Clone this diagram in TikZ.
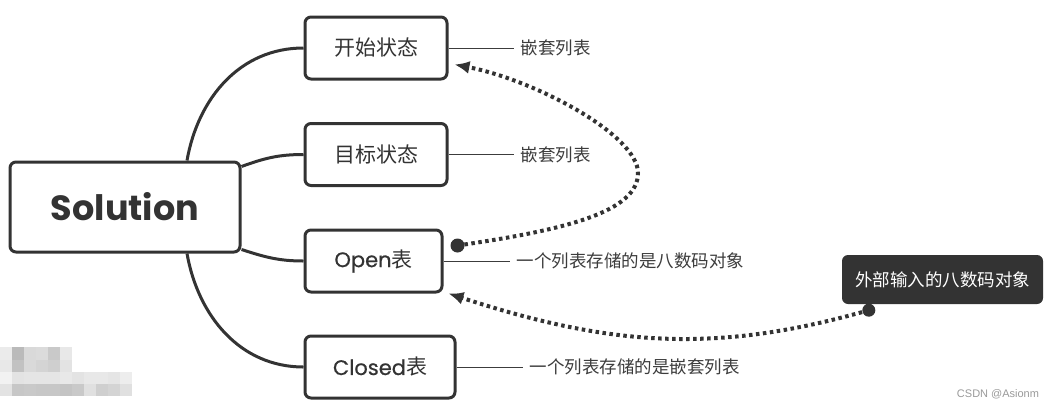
\documentclass[tikz,border=0pt]{standalone}
\usepackage{fontspec}
\usetikzlibrary{positioning,arrows.meta}
\newfontfamily\cjk{Noto Sans CJK SC}
\newfontfamily\geo{Poppins}
\newfontfamily\geomed{Poppins}[FakeBold=0.6]
\newfontfamily\wmk{Liberation Sans}
\definecolor{ink}{HTML}{333333}
\definecolor{txt}{HTML}{3C3C3C}
\tikzset{
  topic/.style={draw=ink, line width=3pt, rounded corners=6pt, fill=white,
    text=ink, minimum height=62pt, inner sep=0pt},
  branch/.style={draw=ink, line width=3pt},
  stem/.style={draw=txt, line width=1pt},
  note/.style={text=txt, inner xsep=7pt, font=\cjk\fontsize{17.5}{20}\selectfont},
  link/.style={draw=ink, line width=4pt, dash pattern=on 3.5pt off 3.5pt,
    -{Latex[length=15pt,width=13pt]}},
}
\begin{document}
\begin{tikzpicture}[x=1pt,y=1pt]

% 1. Fix the frame to the reference size
\useasboundingbox (0,0) rectangle (1054,-408);

% 2. Blurred patch at the lower left
\foreach \i/\g in {0/8,1/27,2/15,3/14,4/21,5/9}
  \fill[black!\g] (12*\i,-347) rectangle ++(12,-13);
\foreach \i/\g in {0/9,1/24,2/15,3/17,4/19,5/11}
  \fill[black!\g] (12*\i,-360) rectangle ++(12,-12);
\foreach \i/\g in {0/5,1/11,2/10,3/10,4/10,5/9,6/11,7/9,8/9,9/10,10/7}
  \fill[black!\g] (12*\i,-372) rectangle ++(12,-12);
\foreach \i/\g in {0/11,1/22,2/21,3/22,4/22,5/23,6/21,7/12,8/19,9/17,10/12}
  \fill[black!\g] (12*\i,-384) rectangle ++(12,-12);

% 3. Central node and its four topics
\node[topic, minimum width=230pt, minimum height=90pt,
  font=\geo\bfseries\fontsize{35}{38}\selectfont] (sol) at (125,-207) {Solution};
\node[topic, minimum width=142pt, font=\cjk\fontsize{21}{24}\selectfont]
  (start) at (376,-48) {开始状态};
\node[topic, minimum width=142pt, font=\cjk\fontsize{21}{24}\selectfont]
  (goal) at (376,-154.5) {目标状态};
\node[topic, minimum width=137pt, font=\geomed\fontsize{21}{24}\selectfont]
  (open) at (373.5,-261) {Open{\cjk 表}};
\node[topic, minimum width=150pt, font=\geomed\fontsize{21}{24}\selectfont]
  (closed) at (380,-367) {Closed{\cjk 表}};

% 4. Curved branches from Solution
\draw[branch] ([xshift=62pt]sol.north) to[out=80,in=180] (start.west);
\draw[branch] ([yshift=-6pt]sol.north east) to[out=20,in=180] (goal.west);
\draw[branch] ([yshift=4pt]sol.south east) to[out=-18,in=180] (open.west);
\draw[branch] ([xshift=62pt]sol.south) to[out=-80,in=180] (closed.west);

% 5. Notes with their thin lines
\node[note, anchor=west, right=65pt of start] (nstart) {嵌套列表};
\node[note, anchor=west, right=65pt of goal] (ngoal) {嵌套列表};
\node[note, anchor=west, right=66pt of open] (nopen) {一个列表存储的是八数码对象};
\node[note, anchor=west, right=66pt of closed] (nclosed) {一个列表存储的是嵌套列表};
\draw[stem] (start.east) -- (nstart.west);
\draw[stem] (goal.east) -- (ngoal.west);
\draw[stem] (open.east) -- (nopen.west);
\draw[stem] (closed.east) -- (nclosed.west);

% 6. Dark callout
\node[fill=ink, rounded corners=6pt, minimum width=201pt, minimum height=49pt,
  text=white, font=\cjk\fontsize{17.5}{20}\selectfont] (ext) at (942.5,-279.5)
  {外部输入的八数码对象};

% 7. Dotted relations
\coordinate (o1) at ([xshift=14pt,yshift=-17pt]open.north east);
\coordinate (t1) at ([xshift=6pt,yshift=16pt]start.south east);
\coordinate (bend) at (638,-173);
\coordinate (o2) at ([xshift=27pt,yshift=-6pt]ext.south west);
\coordinate (t2) at ([xshift=5pt]open.south east);
\draw[link] (o1) .. controls (565,-230) and (638,-212) .. (bend)
  .. controls (638,-135) and (535,-80) .. (t1);
\draw[link] (o2) to[out=196,in=-18] (t2);
\fill[ink] (o1) circle (7);
\fill[ink] (o2) circle (6.5);

% 8. Watermark
\node[text=black!40, font=\wmk\fontsize{11}{13}\selectfont] (mark) at (998,-394)
  {CSDN @Asionm};

\end{tikzpicture}
\end{document}
